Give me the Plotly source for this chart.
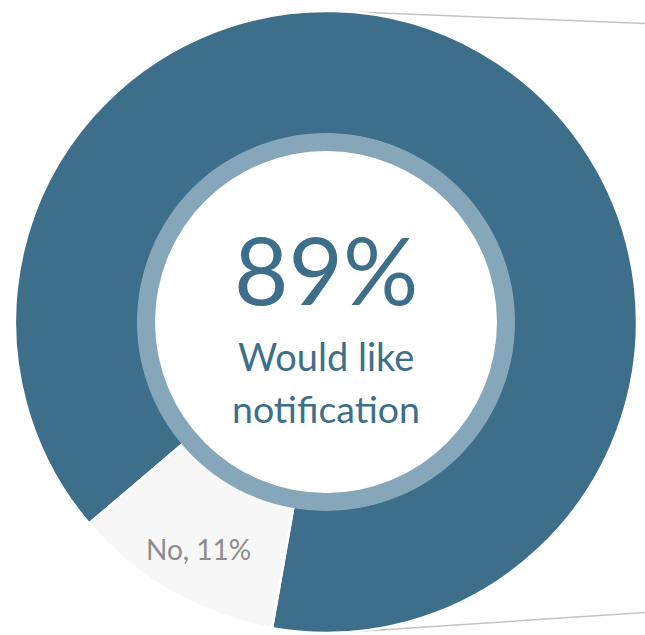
import plotly.graph_objects as go

# Survey answer split
labels = ["Yes", "No"]
shares = [89, 11]
slice_colors = ["#3e6f8a", "#f7f7f7"]

headline = "89%"
caption_lines = ["Would like", "notification"]
no_label = "No, 11%"

W, H = 645, 635
cx, cy, r_out = 326, 322, 311
r_hole, r_ring_out, r_ring_in = 187, 189, 171


def dom(r):
    return dict(x=[(cx - r) / W, (cx + r) / W],
                y=[1 - (cy + r) / H, 1 - (cy - r) / H])


fig = go.Figure()

fig.add_trace(go.Pie(
    labels=labels,
    values=shares,
    sort=False,
    direction="clockwise",
    rotation=229.6,
    hole=r_hole / r_out,
    marker=dict(colors=slice_colors, line=dict(color="white", width=2.5)),
    textinfo="none",
    hoverinfo="label+percent",
    domain=dom(r_out),
    showlegend=False,
))

# thin lighter ring around the centre
fig.add_trace(go.Pie(
    labels=["ring"],
    values=[1],
    hole=r_ring_in / r_ring_out,
    marker=dict(colors=["#86a6b9"], line=dict(color="#86a6b9", width=0)),
    textinfo="none",
    hoverinfo="skip",
    domain=dom(r_ring_out),
    showlegend=False,
))

font = "Lato, 'Open Sans', sans-serif"
ann = [
    dict(text=headline, x=cx / W, y=1 - 268 / H, font=dict(size=94, color="#3e6f8a", family=font)),
    dict(text=caption_lines[0], x=cx / W, y=1 - 356 / H, font=dict(size=38, color="#3e6f8a", family=font)),
    dict(text=caption_lines[1], x=cx / W, y=1 - 408 / H, font=dict(size=37.5, color="#3e6f8a", family=font)),
    dict(text=no_label, x=198 / W, y=1 - 549 / H, font=dict(size=28, color="#8c8c8c", family=font)),
]
for a in ann:
    a.update(xref="paper", yref="paper", showarrow=False, xanchor="center", yanchor="middle")

# connector lines toward the right edge
shapes = [
    dict(type="line", xref="paper", yref="paper", x0=356 / W, y0=1 - 12 / H, x1=1, y1=1 - 23.5 / H,
         line=dict(color="#c4c4c4", width=1.5), layer="below"),
    dict(type="line", xref="paper", yref="paper", x0=350 / W, y0=1 - 632 / H, x1=1, y1=1 - 612.5 / H,
         line=dict(color="#c4c4c4", width=1.5), layer="below"),
]

fig.update_layout(
    width=W, height=H,
    margin=dict(l=0, r=0, t=0, b=0),
    paper_bgcolor="white",
    plot_bgcolor="white",
    annotations=ann,
    shapes=shapes,
)

fig.write_html("out.html")
